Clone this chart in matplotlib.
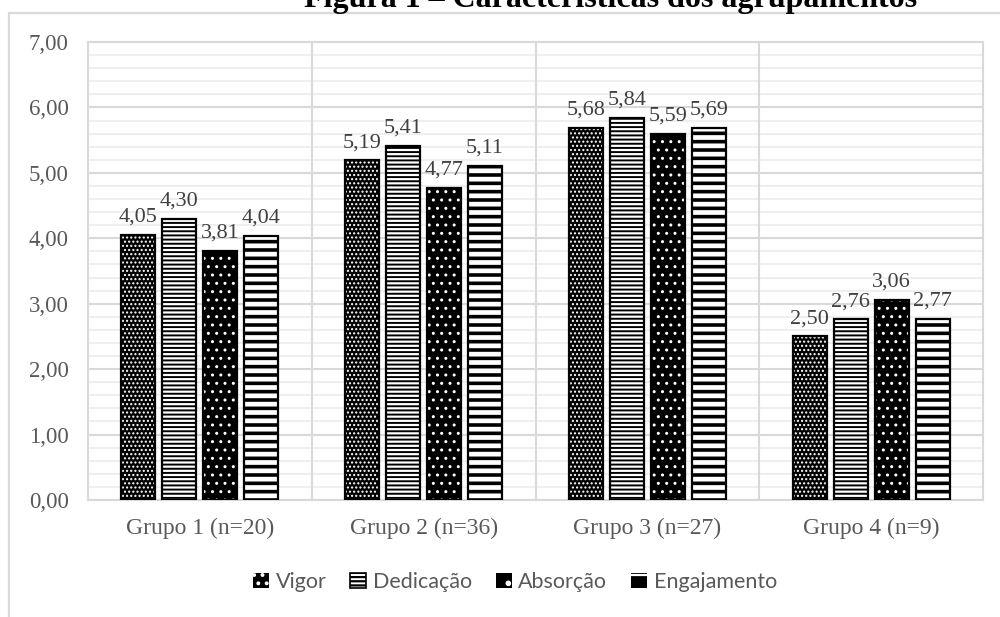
import matplotlib
matplotlib.use("Agg")
import matplotlib.pyplot as plt
import numpy as np
from matplotlib.patches import Patch, Rectangle
from matplotlib.ticker import MultipleLocator, FixedLocator, FuncFormatter

# --- data ---------------------------------------------------------------
groups = ["Grupo 1 (n=20)", "Grupo 2 (n=36)", "Grupo 3 (n=27)", "Grupo 4 (n=9)"]
series_names = ["Vigor", "Dedicação", "Absorção", "Engajamento"]
vigor = [4.05, 5.19, 5.68, 2.50]
dedicacao = [4.30, 5.41, 5.84, 2.76]
absorcao = [3.81, 4.77, 5.59, 3.06]
engajamento = [4.04, 5.11, 5.69, 2.77]
y_ticks = [0, 1, 2, 3, 4, 5, 6, 7]
title = "Figura 1 – Características dos agrupamentos"

series_values = [vigor, dedicacao, absorcao, engajamento]

# fill patterns: (face colour, hatch, hatch colour, hatch linewidth in pt)
patterns = [
    ("black", "....", "white", 1.0),
    ("white", "----", "black", 1.4),
    ("black", "..", "white", 1.0),
    ("black", "--", "white", 3.4),
]


def fmt(v):
    return f"{v:.2f}".replace(".", ",")


GRID_MAJOR = "#d9d9d9"
GRID_MINOR = "#efefef"
TEXT = "#595959"
LABEL = "#404040"
serif = ["Liberation Serif", "DejaVu Serif"]
sans = ["Lato", "DejaVu Sans"]

fig = plt.figure(figsize=(10, 6.17), dpi=100)
fig.patch.set_facecolor("white")

# outer chart frame
fig.add_artist(Rectangle((0.009, -0.2), 1.5, 1.2 - 13 / 617,
                         transform=fig.transFigure, fill=False,
                         edgecolor=GRID_MAJOR, linewidth=1.6, zorder=0))

fig.text(0.611, 1 - 7 / 617, title, ha="center", va="baseline",
         fontsize=23, fontweight="bold", family=serif, color="black")

ax = fig.add_axes([0.088, 1 - 500 / 617, 0.895, (500 - 42) / 617])

x = np.arange(len(groups))
pitch = 0.183
width = 0.152
offsets = (np.arange(len(series_names)) - 1.5) * pitch


def hatch_lw(patch, lw):
    if hasattr(patch, "set_hatch_linewidth"):
        patch.set_hatch_linewidth(lw)


for name, vals, off, (face, hatch, hcol, hlw) in zip(series_names, series_values,
                                                       offsets, patterns):
    with plt.rc_context({"hatch.linewidth": hlw}):
        bars = ax.bar(x + off, vals, width, color=face, edgecolor=hcol,
                      hatch=hatch, linewidth=0, zorder=3)
    for b in bars:
        hatch_lw(b, hlw)
    ax.bar(x + off, vals, width, fill=False, edgecolor="black",
           linewidth=1.6, zorder=4)
    for xi, v in zip(x + off, vals):
        ax.annotate(fmt(v), (xi, v), xytext=(0, 6), textcoords="offset points",
                    ha="center", va="bottom", fontsize=16, family=serif,
                    color=LABEL, zorder=5)

ax.set_xlim(-0.5, len(groups) - 0.5)
ax.set_ylim(0, 7)
ax.yaxis.set_major_locator(FixedLocator(y_ticks))
ax.yaxis.set_minor_locator(MultipleLocator(0.2))
ax.yaxis.set_major_formatter(FuncFormatter(lambda v, p: fmt(v)))
ax.set_xticks(x)
ax.set_xticklabels(groups)

ax.grid(which="minor", axis="y", color=GRID_MINOR, linewidth=1.5, zorder=0)
ax.grid(which="major", axis="y", color=GRID_MAJOR, linewidth=1.5, zorder=1)
ax.set_axisbelow(True)
for xb in x[:-1] + 0.5:
    ax.axvline(xb, color=GRID_MAJOR, linewidth=1.5, zorder=1)

for s in ax.spines.values():
    s.set_color(GRID_MAJOR)
    s.set_linewidth(1.5)

ax.tick_params(axis="both", which="both", length=0)
ax.tick_params(axis="y", pad=14)
ax.tick_params(axis="x", pad=13)
for lbl in ax.get_yticklabels():
    lbl.set_family(serif)
    lbl.set_fontsize(16.5)
    lbl.set_color(TEXT)
for lbl in ax.get_xticklabels():
    lbl.set_family(serif)
    lbl.set_fontsize(17)
    lbl.set_color(TEXT)

# legend keys: black-faced keys carry a white pattern, the white one a black pattern
handles = []
for name, (face, hatch, hcol, hlw) in zip(series_names, patterns):
    if face == "black":
        handles.append(Patch(facecolor=face, edgecolor=hcol, hatch=hatch[:max(1, len(hatch) // 2)],
                             linewidth=0, label=name))
    else:
        handles.append(Patch(facecolor=face, edgecolor="black", hatch=hatch,
                             linewidth=1.2, label=name))
with plt.rc_context({"hatch.linewidth": 1.6}):
    leg = fig.legend(handles=handles, loc="center", bbox_to_anchor=(0.515, 1 - 582 / 617),
                     ncol=4, frameon=False, handlelength=0.75, handleheight=0.75,
                     handletextpad=0.3, columnspacing=1.1,
                     prop={"family": sans, "size": 15.5})
for t in leg.get_texts():
    t.set_color(TEXT)

fig.savefig("out.png", dpi=100, facecolor="white")
